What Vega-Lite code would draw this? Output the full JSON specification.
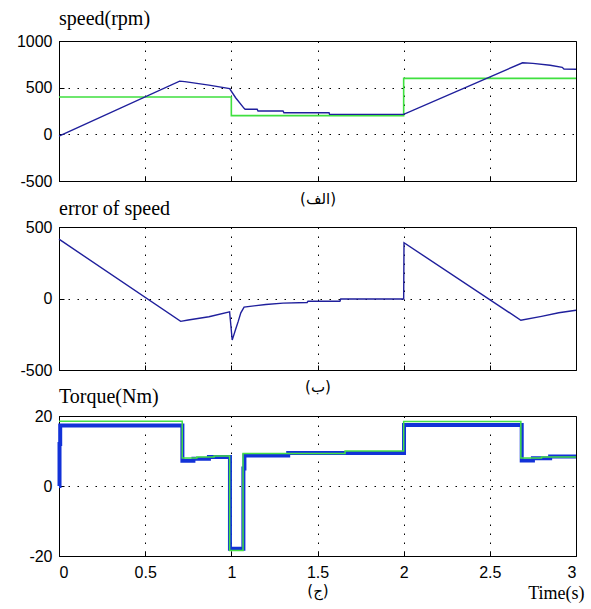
{
  "$schema": "https://vega.github.io/schema/vega-lite/v6.json",
  "background": "white",
  "padding": {"left": 15, "top": 8, "right": 5, "bottom": 5},
  "bounds": "flush",
  "spacing": 46,
  "title": {"text": "Time(s)", "orient": "bottom", "anchor": "end", "frame": "bounds", "offset": -14, "dx": 0, "font": "Liberation Serif", "fontSize": 18, "fontWeight": "normal", "color": "black"},
  "datasets": {
    "speed_ref": [
      {"t": 0, "v": 400}, {"t": 1, "v": 200}, {"t": 2, "v": 600}, {"t": 3, "v": 600}
    ],
    "speed": [
      {"t": 0, "v": -20}, {"t": 0.7, "v": 570}, {"t": 0.73, "v": 565}, {"t": 0.87, "v": 527},
      {"t": 0.99, "v": 490}, {"t": 1.025, "v": 392}, {"t": 1.074, "v": 278}, {"t": 1.08, "v": 268},
      {"t": 1.15, "v": 268}, {"t": 1.155, "v": 250}, {"t": 1.3, "v": 250}, {"t": 1.305, "v": 232},
      {"t": 1.567, "v": 232}, {"t": 1.57, "v": 214}, {"t": 2.0, "v": 214}, {"t": 2.69, "v": 767},
      {"t": 2.75, "v": 760}, {"t": 2.85, "v": 740}, {"t": 2.92, "v": 718}, {"t": 2.93, "v": 700},
      {"t": 3, "v": 697}
    ],
    "err": [
      {"t": 0, "v": 415}, {"t": 0.706, "v": -160}, {"t": 0.75, "v": -150}, {"t": 0.87, "v": -128},
      {"t": 0.99, "v": -93}, {"t": 1.005, "v": -290}, {"t": 1.012, "v": -265}, {"t": 1.025, "v": -215},
      {"t": 1.04, "v": -160}, {"t": 1.055, "v": -100}, {"t": 1.074, "v": -60}, {"t": 1.2, "v": -42},
      {"t": 1.3, "v": -32}, {"t": 1.44, "v": -28}, {"t": 1.445, "v": -19}, {"t": 1.63, "v": -19},
      {"t": 1.635, "v": -3}, {"t": 2.0, "v": -3}, {"t": 2.002, "v": 390}, {"t": 2.68, "v": -152},
      {"t": 2.8, "v": -125}, {"t": 2.9, "v": -100}, {"t": 3, "v": -82}
    ],
    "torque_ref": [
      {"t": 0, "v": 18.5}, {"t": 0.715, "v": 8.0}, {"t": 0.8, "v": 8.3}, {"t": 0.9, "v": 8.6},
      {"t": 0.99, "v": -18.4}, {"t": 1.068, "v": 9.3}, {"t": 1.66, "v": 10.0}, {"t": 2.0, "v": 18.4},
      {"t": 2.68, "v": 8.0}, {"t": 2.8, "v": 8.3}, {"t": 3, "v": 8.3}
    ],
    "torque": [
      {"t": 0, "v": 0}, {"t": 0.003, "v": 12}, {"t": 0.007, "v": 17.3}, {"t": 0.716, "v": 7.2},
      {"t": 0.78, "v": 7.8}, {"t": 0.87, "v": 8.3}, {"t": 0.992, "v": -17.9}, {"t": 1.07, "v": 5},
      {"t": 1.076, "v": 8.7}, {"t": 1.33, "v": 9.4}, {"t": 2.002, "v": 17.4}, {"t": 2.685, "v": 7.3},
      {"t": 2.75, "v": 7.9}, {"t": 2.85, "v": 8.4}, {"t": 3, "v": 8.4}
    ]
  },
  "vconcat": [
    {
      "width": 517, "height": 140,
      "title": {"text": "speed(rpm)", "offset": 4},
      "layer": [
        {
          "data": {"name": "speed_ref"},
          "mark": {"type": "line", "color": "#3fe03f", "strokeWidth": 1.6, "interpolate": "step-after"},
          "encoding": {
            "x": {"field": "t", "type": "quantitative", "scale": {"domain": [0, 3], "nice": false},
                  "axis": {"values": [0, 0.5, 1, 1.5, 2, 2.5, 3], "labels": false, "title": "(الف)", "titlePadding": 10}},
            "y": {"field": "v", "type": "quantitative", "scale": {"domain": [-500, 1000], "nice": false},
                  "axis": {"values": [-500, 0, 500, 1000], "title": null}}
          }
        },
        {
          "data": {"name": "speed"},
          "mark": {"type": "line", "color": "#1f1f9c", "strokeWidth": 1.4},
          "encoding": {
            "x": {"field": "t", "type": "quantitative"},
            "y": {"field": "v", "type": "quantitative"}
          }
        }
      ]
    },
    {
      "width": 517, "height": 143,
      "title": {"text": "error of speed", "offset": 0},
      "data": {"name": "err"},
      "mark": {"type": "line", "color": "#1f1f9c", "strokeWidth": 1.4},
      "encoding": {
        "x": {"field": "t", "type": "quantitative", "scale": {"domain": [0, 3], "nice": false},
              "axis": {"values": [0, 0.5, 1, 1.5, 2, 2.5, 3], "labels": false, "title": "(ب)", "titlePadding": 9}},
        "y": {"field": "v", "type": "quantitative", "scale": {"domain": [-500, 500], "nice": false},
              "axis": {"values": [-500, 0, 500], "title": null}}
      }
    },
    {
      "width": 517, "height": 140,
      "title": {"text": "Torque(Nm)", "offset": 1},
      "layer": [
        {
          "data": {"name": "torque"},
          "mark": {"type": "line", "color": "#1232d8", "strokeWidth": 4, "interpolate": "step-after"},
          "encoding": {
            "x": {"field": "t", "type": "quantitative", "scale": {"domain": [0, 3], "nice": false},
                  "axis": {"values": [0, 0.5, 1, 1.5, 2, 2.5, 3], "title": "(ج)", "labelPadding": 13, "titlePadding": 3}},
            "y": {"field": "v", "type": "quantitative", "scale": {"domain": [-20, 20], "nice": false},
                  "axis": {"values": [-20, -10, 0, 10, 20], "title": null}}
          }
        },
        {
          "data": {"name": "torque_ref"},
          "mark": {"type": "line", "color": "#44e044", "strokeWidth": 1.5, "interpolate": "step-after"},
          "encoding": {
            "x": {"field": "t", "type": "quantitative"},
            "y": {"field": "v", "type": "quantitative"}
          }
        }
      ]
    }
  ],
  "config": {
    "view": {"stroke": "black", "strokeWidth": 1},
    "axis": {
      "domainColor": "black", "tickColor": "black", "tickSize": -5,
      "grid": true, "gridColor": "black", "gridDash": [1.5, 7.5], "gridWidth": 1, "gridOpacity": 1,
      "labelFont": "Liberation Sans", "labelFontSize": 16, "labelColor": "black",
      "labelExpr": "'' + datum.value",
      "titleFont": "DejaVu Sans", "titleFontWeight": "normal", "titleFontSize": 15, "titleColor": "black"
    },
    "axisY": {"labelPadding": 12},
    "title": {"font": "Liberation Serif", "fontSize": 20, "fontWeight": "normal", "anchor": "start", "frame": "group", "color": "black"}
  }
}
